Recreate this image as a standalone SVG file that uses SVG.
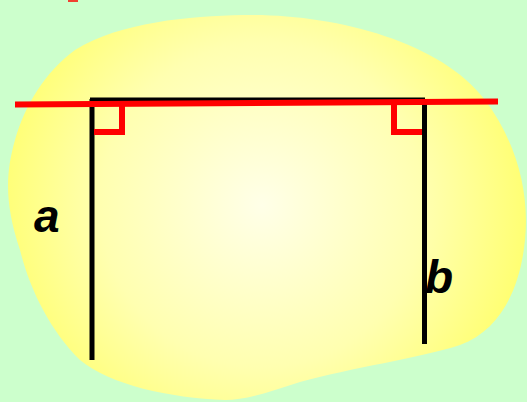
<svg xmlns="http://www.w3.org/2000/svg" width="527" height="402" viewBox="0 0 527 402">
<defs>
<radialGradient id="blobGrad" cx="262" cy="205" r="270" gradientUnits="userSpaceOnUse">
<stop offset="0" stop-color="#ffffe8"/>
<stop offset="0.6" stop-color="#ffffb0"/>
<stop offset="1" stop-color="#ffff70"/>
</radialGradient>
<style>
.blk{stroke:#000;stroke-width:5;fill:none}
.red{stroke:#ff0000;stroke-width:6;fill:none}
.lbl{font-family:"Liberation Sans",Arial,sans-serif;font-weight:bold;font-style:italic;font-size:46px;fill:#000}
</style>
</defs>
<rect width="527" height="402" fill="#ccffcc"/>
<rect x="68" y="0" width="10" height="2" fill="#f04030"/>
<g id="plane">
<path d="M243,15 C330,13 440,40 485,100 C515,140 530,190 525,240 C520,290 500,330 460,345 C420,358 350,368 300,382 C270,392 245,400 225,400 C170,398 110,385 80,360 C50,330 30,290 20,250 C5,205 5,175 15,140 C25,105 45,72 75,50 C120,22 190,16 243,15 Z" fill="url(#blobGrad)"/>
</g>
<g id="connectors">
<line class="blk" x1="90" y1="100" x2="425" y2="100" stroke-width="3"/>
<line id="line-a" class="blk" x1="92" y1="99" x2="92" y2="360"/>
<line id="line-b" class="blk" x1="424.5" y1="99" x2="424.5" y2="344"/>
<line id="red-line" class="red" x1="15" y1="104.5" x2="498" y2="101.5"/>
<polyline class="red" points="122,104 122,132 94,132"/>
<polyline class="red" points="394,102 394,132 422,132"/>
</g>
<g id="label-a"><text class="lbl" x="34" y="232">a</text></g>
<g id="label-b"><text class="lbl" x="425" y="293">b</text></g>
</svg>
